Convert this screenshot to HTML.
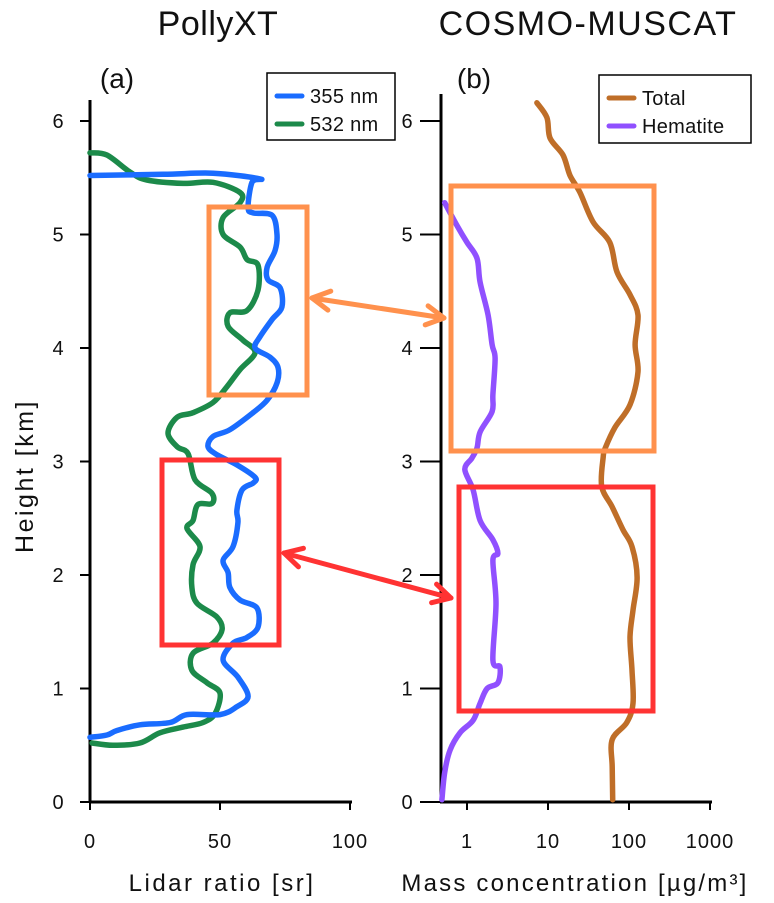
<!DOCTYPE html>
<html><head><meta charset="utf-8"><style>
body{margin:0;background:#fff;}
svg{display:block;font-family:"Liberation Sans",sans-serif;}
</style></head><body>
<svg id="chart" width="774" height="903" viewBox="0 0 774 903" xmlns="http://www.w3.org/2000/svg"></svg>
<script>
// Panel (a) data: lidar ratio [sr] vs height [km]
const blueSr = [0,28.1,47.3,65.4,62.3,60.8,62.7,70.0,71.9,71.2,68.1,68.5,73.1,73.8,70.0,65.4,63.5,69.2,72.3,71.9,68.1,62.7,53.8,47.3,45.4,48.8,56.5,63.5,62.7,58.5,56.5,56.9,55.0,51.2,53.1,53.8,57.7,64.2,64.6,60.4,55.0,51.2,56.9,60.8,56.5,50.0,37.3,30.8,19.2,10.4,6.5,0];
const blueKm = [5.52,5.53,5.54,5.49,5.46,5.24,5.19,5.17,5.01,4.86,4.71,4.60,4.53,4.36,4.25,4.10,4.00,3.92,3.83,3.69,3.54,3.43,3.28,3.22,3.13,3.06,2.97,2.86,2.81,2.75,2.57,2.46,2.25,2.13,2.02,1.89,1.78,1.71,1.54,1.45,1.40,1.25,1.10,0.93,0.84,0.77,0.77,0.70,0.68,0.63,0.59,0.57];
const greenSr = [0,6.5,15.4,21.9,35.8,47.3,57.7,57.7,51.2,51.2,57.7,60.4,64.6,64.6,60.4,53.8,53.1,58.8,63.5,57.7,52.7,47.3,39.6,33.5,30.0,33.5,37.7,40.4,46.9,46.9,41.5,39.6,37.3,42.3,39.6,39.2,41.2,48.8,50.8,47.3,39.6,39.2,45.0,50.0,48.1,43.5,35.8,26.9,19.2,8.8,0.8];
const greenKm = [5.72,5.70,5.55,5.48,5.45,5.46,5.37,5.28,5.15,5.00,4.89,4.78,4.73,4.51,4.33,4.31,4.19,4.07,3.96,3.81,3.66,3.52,3.43,3.39,3.25,3.13,3.07,2.84,2.72,2.63,2.62,2.48,2.41,2.25,2.09,1.89,1.75,1.63,1.52,1.40,1.31,1.16,1.05,0.96,0.78,0.70,0.66,0.61,0.52,0.50,0.52];
// Panel (b) data: mass concentration [ug/m3] vs height [km]
const totalKm = [6.16,6.03,5.85,5.70,5.52,5.37,5.11,4.93,4.67,4.47,4.29,4.03,3.79,3.50,3.30,3.12,3.04,2.78,2.60,2.40,2.25,1.98,1.69,1.45,1.16,0.87,0.70,0.55,0.31,0.02];
const totalVal = [7.3,9.7,10.6,15.3,18.7,24.8,36,58,71,103,129,119,129,103,67,51,48,46,62,84,109,126,112,103,109,112,94,62,62,63];
const hemKm = [5.28,5.08,4.93,4.79,4.58,4.29,4.03,3.91,3.59,3.44,3.26,3.12,3.03,2.93,2.75,2.48,2.31,2.19,2.13,1.75,1.25,1.19,1.05,1.00,0.87,0.72,0.61,0.46,0.26,0.02];
const hemVal = [0.53,0.75,1.0,1.33,1.45,1.82,2.04,2.22,2.09,2.04,1.45,1.33,1.15,0.94,1.19,1.45,2.09,2.41,2.09,2.28,2.09,2.55,2.41,1.77,1.45,1.19,0.82,0.62,0.53,0.49];
const yTicks = [0,1,2,3,4,5,6];
const xTicksA = [0,50,100];
const xTicksB = [1,10,100,1000];

const NS="http://www.w3.org/2000/svg";
const svg=document.getElementById('chart');
function yS(k){return 802-k*113.5;}
function xA(v){return 90+v*2.6;}
function xB(v){return 467+81*Math.log10(v);}
function mk(tag,attrs,parent){const e=document.createElementNS(NS,tag);for(const k in attrs)e.setAttribute(k,attrs[k]);(parent||svg).appendChild(e);return e;}
function txt(x,y,s,size,anchor,parent,ls){const t=mk('text',{x:x,y:y,'font-size':size,'text-anchor':anchor||'middle',fill:'#111','letter-spacing':ls||0},parent);t.textContent=s;return t;}

// Axes
const axA=mk('g',{});


mk('line',{x1:90,y1:100,x2:90,y2:803,stroke:'#000','stroke-width':3},axA);
mk('line',{x1:89,y1:802,x2:352,y2:802,stroke:'#000','stroke-width':3},axA);
const axB=mk('g',{});


mk('line',{x1:441,y1:94,x2:441,y2:803,stroke:'#000','stroke-width':3},axB);
mk('line',{x1:440,y1:802,x2:712,y2:802,stroke:'#000','stroke-width':3},axB);
yTicks.forEach(k=>{
  mk('line',{x1:80,y1:yS(k),x2:90,y2:yS(k),stroke:'#000','stroke-width':2},axA);
  const t=txt(58,yS(k)+7,String(k),20,'middle',axA);
  
  
  mk('line',{x1:420,y1:yS(k),x2:441,y2:yS(k),stroke:'#000','stroke-width':2},axB);
  const t2=txt(407,yS(k)+7,String(k),20,'middle',axB);
  
  
});
xTicksA.forEach(v=>{
  mk('line',{x1:xA(v),y1:802,x2:xA(v),y2:810,stroke:'#000','stroke-width':2},axA);
  const t=txt(xA(v),848,String(v),20,'middle',axA,1);
  
  
});
xTicksB.forEach(v=>{
  mk('line',{x1:xB(v),y1:802,x2:xB(v),y2:810,stroke:'#000','stroke-width':2},axB);
  const t=txt(xB(v),848,String(v),20,'middle',axB,1);
  
  
});

// Series (smoothed Catmull-Rom)
function series(xs,ys,fx,color,name){
  const P=xs.map((v,i)=>[fx(v),yS(ys[i])]);
  let d='M'+P[0][0].toFixed(1)+','+P[0][1].toFixed(1);
  for(let i=0;i<P.length-1;i++){
    const p0=P[Math.max(0,i-1)],p1=P[i],p2=P[i+1],p3=P[Math.min(P.length-1,i+2)];
    const c1=[p1[0]+(p2[0]-p0[0])/6,p1[1]+(p2[1]-p0[1])/6];
    const c2=[p2[0]-(p3[0]-p1[0])/6,p2[1]-(p3[1]-p1[1])/6];
    d+=` C${c1[0].toFixed(1)},${c1[1].toFixed(1)} ${c2[0].toFixed(1)},${c2[1].toFixed(1)} ${p2[0].toFixed(1)},${p2[1].toFixed(1)}`;
  }
  const p=mk('path',{d:d,fill:'none',stroke:color,'stroke-width':5.5,'stroke-linejoin':'round','stroke-linecap':'round'});
  
  
}
series(greenSr,greenKm,xA,'#1c8a4a','line-532nm');
series(blueSr,blueKm,xA,'#1a6cff','line-355nm');
series(totalVal,totalKm,xB,'#bf6e28','line-total');
series(hemVal,hemKm,xB,'#9050ff','line-hematite');

// Boxes
function box(x,y,w,h,c,name){const r=mk('rect',{x:x,y:y,width:w,height:h,fill:'none',stroke:c,'stroke-width':5});
  
  }
box(209,207,98,188,'#ff914d','box-orange-a');
box(162,460,117,185,'#ff3333','box-red-a');
box(451,186,203,265,'#ff914d','box-orange-b');
box(459,487,194,224,'#ff3333','box-red-b');

// Arrows
function arrow(x1,y1,x2,y2,c,name){
  const g=mk('g',{});
  
  
  mk('line',{x1:x1,y1:y1,x2:x2,y2:y2,stroke:c,'stroke-width':5,'stroke-linecap':'round'},g);
  const a=Math.atan2(y2-y1,x2-x1),L=20,s=0.5;
  [[x2,y2,a],[x1,y1,a+Math.PI]].forEach(([x,y,an])=>{
    const p=`M${x-L*Math.cos(an-s)},${y-L*Math.sin(an-s)} L${x},${y} L${x-L*Math.cos(an+s)},${y-L*Math.sin(an+s)}`;
    mk('path',{d:p,fill:'none',stroke:c,'stroke-width':5,'stroke-linecap':'round','stroke-linejoin':'round'},g);
  });
}
arrow(312,298,444,318,'#ff914d','arrow-orange');
arrow(284,553,451,598,'#ff3333','arrow-red');

// Legends
function legend(x,y,w,h,items,name){
  const g=mk('g',{});
  
  
  mk('rect',{x:x,y:y,width:w,height:h,fill:'#fff',stroke:'#000','stroke-width':1.5},g);
  items.forEach((it,i)=>{
    const yy=y+23+i*28;
    mk('line',{x1:x+10,y1:yy,x2:x+35,y2:yy,stroke:it[1],'stroke-width':5,'stroke-linecap':'round'},g);
    const t=txt(x+43,yy+7,it[0],20,'start',g,0.3);
    
    
  });
}
legend(267,73,128,67,[['355 nm','#1a6cff'],['532 nm','#1c8a4a']],'legend-a');
legend(599,75,152,68,[['Total','#bf6e28'],['Hematite','#9050ff']],'legend-b');

// Titles
[[218,35,'PollyXT',34,'title-pollyxt',0.5],[588,35,'COSMO-MUSCAT',34,'title-cosmo-muscat',1.5],[117,88,'(a)',28,'panel-label-a',0],[474,88,'(b)',28,'panel-label-b',0],
 [222,891,'Lidar ratio [sr]',24,'x-axis-title-a',2.5],[575,891,'Mass concentration [µg/m³]',24,'x-axis-title-b',2.2]].forEach(a=>{
  const t=txt(a[0],a[1],a[2],a[3],'middle',undefined,a[5]);
  
  
});
const yt=txt(0,0,'Height [km]',25,'middle',undefined,2.5);
yt.setAttribute('transform','translate(33,476) rotate(-90)');


</script>
</body></html>
